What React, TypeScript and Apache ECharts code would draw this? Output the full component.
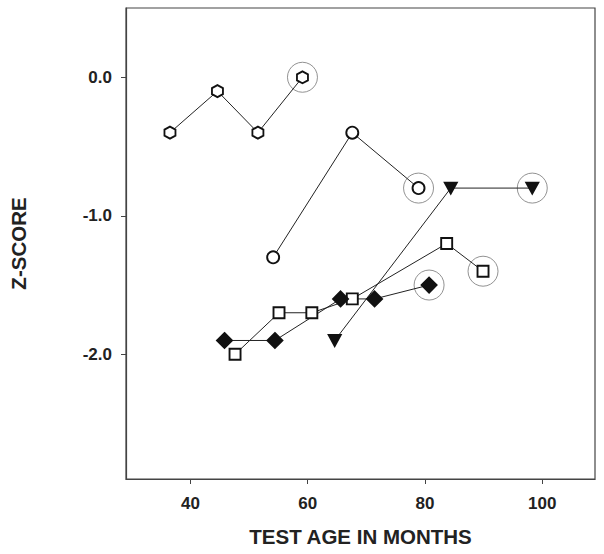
import React, { useEffect, useRef } from "react";
import * as echarts from "echarts";

const hexAges = [36.5, 44.6, 51.5, 59.1];
const hexZ = [-0.4, -0.1, -0.4, 0.0];
const circleAges = [54.1, 67.6, 78.9];
const circleZ = [-1.3, -0.4, -0.8];
const triAges = [64.6, 84.4, 98.3];
const triZ = [-1.9, -0.8, -0.8];
const squareAges = [47.6, 55.1, 60.7, 67.6, 83.7, 89.9];
const squareZ = [-2.0, -1.7, -1.7, -1.6, -1.2, -1.4];
const diamondAges = [45.8, 54.4, 65.6, 71.4, 80.7];
const diamondZ = [-1.9, -1.9, -1.6, -1.6, -1.5];

const xTicks = [40, 60, 80, 100];
const yTicks = [0, -1, -2];

const FONT = "'Liberation Sans', Arial, sans-serif";
const HEX = "path://M0,-1 L0.866,-0.5 L0.866,0.5 L0,1 L-0.866,0.5 L-0.866,-0.5 Z";

const pairs = (xs: number[], ys: number[]) => xs.map((x, i) => [x, ys[i]]);

export default function App() {
  const ref = useRef<HTMLDivElement>(null);
  useEffect(() => {
    const chart = echarts.init(ref.current!, undefined, { renderer: "svg" });
    const groups = [
      { xs: hexAges, ys: hexZ, symbol: HEX, size: [11, 12], fill: "#fff", rotate: 0 },
      { xs: circleAges, ys: circleZ, symbol: "circle", size: 12, fill: "#fff", rotate: 0 },
      { xs: triAges, ys: triZ, symbol: "triangle", size: [12, 11], fill: "#111", rotate: 180 },
      { xs: squareAges, ys: squareZ, symbol: "rect", size: 11, fill: "#fff", rotate: 0 },
      { xs: diamondAges, ys: diamondZ, symbol: "diamond", size: 15, fill: "#111", rotate: 0 },
    ];
    const lineSeries = groups.map((g) => ({
      type: "line",
      data: pairs(g.xs, g.ys),
      symbol: g.symbol,
      symbolSize: g.size,
      symbolRotate: g.rotate,
      showAllSymbol: true,
      lineStyle: { color: "#222", width: 1 },
      itemStyle: { color: g.fill, borderColor: "#111", borderWidth: 1.9 },
      z: 3,
    }));
    const highlight = {
      type: "scatter",
      data: groups.map((g) => [g.xs[g.xs.length - 1], g.ys[g.ys.length - 1]]),
      symbol: "circle",
      symbolSize: 30,
      itemStyle: { color: "rgba(0,0,0,0)", borderColor: "#777", borderWidth: 1 },
      z: 2,
    };
    chart.setOption({
      animation: false,
      grid: {
        left: 125,
        top: 8,
        right: 9,
        bottom: 75,
        show: true,
        borderColor: "#444",
        borderWidth: 1.2,
      },
      xAxis: {
        type: "value",
        min: 29,
        max: 109,
        name: "TEST AGE IN MONTHS",
        nameLocation: "middle",
        nameGap: 47,
        nameTextStyle: { fontFamily: FONT, fontWeight: "bold", fontSize: 20.5, color: "#222" },
        axisLine: { show: true, onZero: false, lineStyle: { color: "#444", width: 1.2 } },
        axisTick: { show: true, customValues: xTicks, length: 5, lineStyle: { color: "#444" } },
        axisLabel: {
          customValues: xTicks,
          margin: 16,
          fontFamily: FONT,
          fontWeight: "bold",
          fontSize: 17,
          color: "#222",
        },
        splitLine: { show: false },
      },
      yAxis: {
        type: "value",
        min: -2.9,
        max: 0.5,
        name: "Z-SCORE",
        nameLocation: "middle",
        nameGap: 97,
        nameRotate: 90,
        nameTextStyle: { fontFamily: FONT, fontWeight: "bold", fontSize: 20.5, color: "#222" },
        axisLine: { show: true, onZero: false, lineStyle: { color: "#444", width: 1.2 } },
        axisTick: { show: true, customValues: yTicks, length: 5, lineStyle: { color: "#444" } },
        axisLabel: {
          customValues: yTicks,
          margin: 14,
          fontFamily: FONT,
          fontWeight: "bold",
          fontSize: 17,
          color: "#222",
          formatter: (v: number) => v.toFixed(1),
        },
        splitLine: { show: false },
      },
      series: [highlight, ...lineSeries],
    });
    return () => chart.dispose();
  }, []);
  return (
    <div
      ref={ref}
      style={{ position: "fixed", left: 0, top: 0, width: 604, height: 554, background: "#fff" }}
    />
  );
}
